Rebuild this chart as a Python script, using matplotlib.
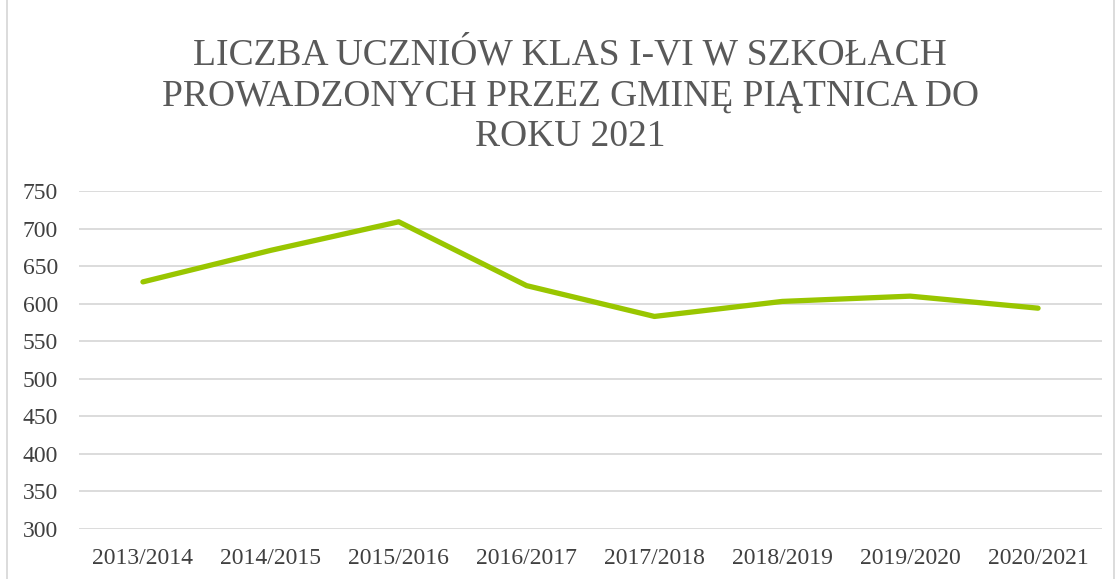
import matplotlib
matplotlib.use("Agg")
import matplotlib.pyplot as plt
from matplotlib.patches import Rectangle

categories = ["2013/2014", "2014/2015", "2015/2016", "2016/2017",
              "2017/2018", "2018/2019", "2019/2020", "2020/2021"]
values = [629, 671, 709, 624, 583, 603, 610, 594]
yticks = [300, 350, 400, 450, 500, 550, 600, 650, 700, 750]
title = "LICZBA UCZNIÓW KLAS I-VI W SZKOŁACH\nPROWADZONYCH PRZEZ GMINĘ PIĄTNICA DO\nROKU 2021"

fig = plt.figure(figsize=(11.18, 5.79), dpi=100)
ax = fig.add_axes([79/1118, 1-529/579, (1102-79)/1118, (529-191)/579])

x = range(len(categories))
ax.plot(x, values, color="#99c600", linewidth=3.8, solid_capstyle="round", solid_joinstyle="round")
ax.set_xlim(-0.5, len(categories)-0.5)
ax.set_ylim(300, 750)
ax.set_yticks(yticks)
ax.set_xticks(list(x))
ax.set_xticklabels(categories)
ax.grid(axis="y", color="#d9d9d9", linewidth=1.3)
ax.set_axisbelow(True)
for s in ax.spines.values():
    s.set_visible(False)
ax.tick_params(length=0, labelsize=17, labelcolor="#404040")
ax.tick_params(axis="x", pad=14)
ax.tick_params(axis="y", pad=15)
for lab in ax.get_xticklabels() + ax.get_yticklabels():
    lab.set_family("Liberation Serif")

fig.text(570/1118, 1-96/579, title, ha="center", va="center", fontsize=27,
         family="Liberation Serif", color="#595959", linespacing=1.22)

fig.patches.append(Rectangle((7/1118, -0.01), (1114-7)/1118, 1.02, transform=fig.transFigure,
                             fill=False, edgecolor="#d9d9d9", linewidth=1.3))

fig.savefig("out.png", dpi=100)
